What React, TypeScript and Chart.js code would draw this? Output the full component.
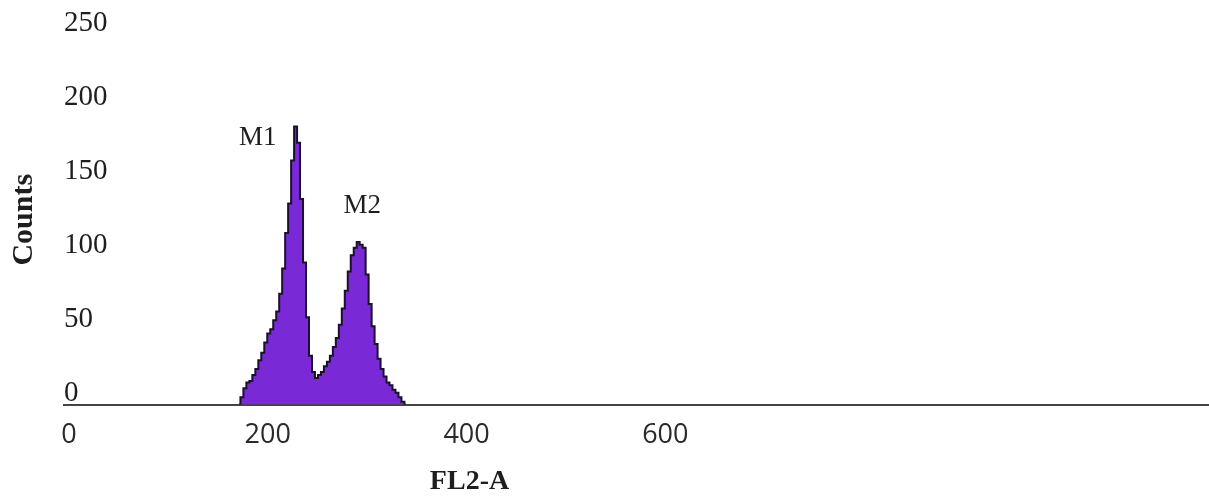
import React, { useEffect, useRef } from "react";
import { Chart, registerables } from "chart.js";

Chart.register(...registerables);

// FL2-A channel (bin position) and event counts
const fl2Channels = [
  171, 174, 177, 180, 183, 186, 189, 192, 195, 198, 201, 204, 207, 210, 213, 216, 219, 222, 225, 228,
  231, 234, 237, 240, 243, 246, 249, 252, 255, 258, 261, 264, 267, 270, 273, 276, 279, 282, 285, 288,
  291, 294, 297, 300, 303, 306, 309, 312, 315, 318, 321, 324, 327, 330, 333, 336, 339,
];
const counts = [
  0, 5, 11, 15, 16, 20, 24, 30, 35, 42, 48, 51, 57, 63, 75, 92, 116, 136, 165, 188,
  177, 139, 96, 59, 33, 22, 18, 20, 22, 26, 29, 33, 39, 45, 54, 65, 77, 90, 101, 106,
  110, 108, 106, 88, 68, 53, 41, 31, 24, 19, 15, 13, 10, 8, 5, 2, 0,
];

const xTickValues = [0, 200, 400, 600];
const yTickValues = [0, 50, 100, 150, 200, 250];

const markerLabels = ["M1", "M2"];
const markerX = [190, 295];
const markerY = [180, 134];

const xAxisTitle = "FL2-A";
const xAxisTitleAt = 403;
const yAxisTitle = "Counts";

const SERIF = '"Liberation Serif", "Times New Roman", serif';
const SANS = '"Open Sans", "Noto Sans", sans-serif';

const labelsPlugin = {
  id: "histLabels",
  afterDatasetsDraw(chart: any) {
    const { ctx, scales, chartArea } = chart;
    const x = scales.x;
    const y = scales.y;
    ctx.save();
    ctx.fillStyle = "#1e1e1e";
    ctx.textAlign = "center";
    ctx.textBaseline = "middle";
    ctx.font = `27px ${SERIF}`;
    markerLabels.forEach((t, i) => {
      ctx.fillText(t, x.getPixelForValue(markerX[i]), y.getPixelForValue(markerY[i]));
    });
    ctx.font = `bold 28px ${SERIF}`;
    ctx.fillText(xAxisTitle, x.getPixelForValue(xAxisTitleAt), chartArea.bottom + 77);
    ctx.restore();
  },
};

export default function App() {
  const canvasRef = useRef<HTMLCanvasElement | null>(null);

  useEffect(() => {
    if (!canvasRef.current) return;
    const points = fl2Channels.map((c, i) => ({ x: c, y: counts[i] }));
    const chart = new Chart(canvasRef.current, {
      type: "line",
      data: {
        datasets: [
          {
            label: "Counts",
            data: points,
            stepped: "middle",
            fill: "origin",
            backgroundColor: "rgb(121, 41, 214)",
            borderColor: "#1b1030",
            borderWidth: 2,
            pointRadius: 0,
          },
        ],
      },
      options: {
        animation: false,
        responsive: true,
        maintainAspectRatio: false,
        layout: { padding: { top: 4, left: 0, right: 0, bottom: 31 } },
        plugins: {
          legend: { display: false },
          tooltip: { enabled: false },
        },
        scales: {
          x: {
            type: "linear",
            min: -5,
            max: 1147,
            afterBuildTicks: (scale: any) => {
              scale.ticks = xTickValues.map((v) => ({ value: v }));
            },
            grid: { display: false, drawTicks: false },
            border: { display: true, color: "#444444", width: 2 },
            ticks: {
              autoSkip: false,
              maxRotation: 0,
              padding: 15,
              color: "#2a2a2a",
              font: { family: SANS, size: 27 },
            },
          },
          y: {
            type: "linear",
            min: 0,
            max: 250,
            afterBuildTicks: (scale: any) => {
              scale.ticks = yTickValues.map((v) => ({ value: v }));
            },
            grid: { display: false, drawTicks: false },
            border: { display: false },
            ticks: {
              mirror: true,
              crossAlign: "near",
              align: "end",
              labelOffset: 3,
              padding: 0,
              color: "#1e1e1e",
              font: { family: SERIF, size: 29 },
            },
            title: {
              display: true,
              text: yAxisTitle,
              color: "#1e1e1e",
              font: { family: SERIF, size: 30, weight: "bold" },
              padding: { top: 6, bottom: 22 },
            },
          },
        },
      },
      plugins: [labelsPlugin],
    });
    return () => chart.destroy();
  }, []);

  return (
    <div style={{ position: "fixed", left: 0, top: 0, width: 1209, height: 498, background: "#fff" }}>
      <canvas ref={canvasRef} />
    </div>
  );
}
